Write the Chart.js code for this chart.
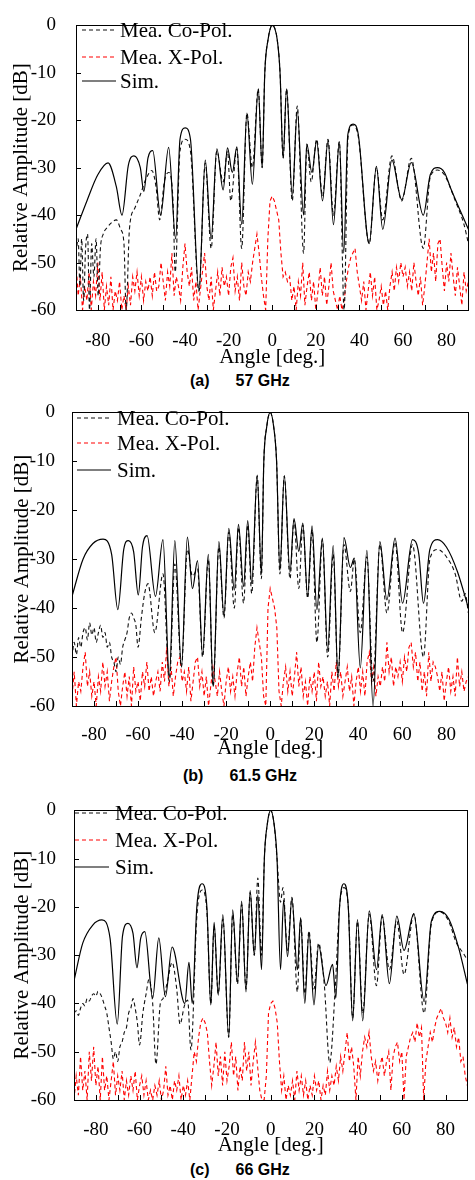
<!DOCTYPE html>
<html lang="en">
<head>
<meta charset="UTF-8">
<title>Radiation patterns</title>
<script src="https://cdn.jsdelivr.net/npm/chart.js"></script>
<style>
  html, body { margin: 0; padding: 0; background: #fff; overflow: hidden; width: 475px; height: 1180px; }
  canvas { position: absolute; left: 0; }
  .leg { position: absolute; font-family: "Liberation Serif", "Times New Roman", serif; font-size: 21px; line-height: 24px; color: #000; white-space: nowrap; }
  .legline { position: absolute; }
  .cap { position: absolute; font-family: "Liberation Sans", Arial, sans-serif; font-weight: bold; font-size: 16px; line-height: 18px; color: #000; white-space: nowrap; }
  .cap span { margin-left: 26px; }
</style>
</head>
<body>
<script>
// angle grid of the x-pol scans (1 deg step)
const angles = Array.from({ length: 181 }, (_, i) => i - 90);

// ---------- (a) 57 GHz ----------
const simA = [[-90,-43],[-85,-37],[-80,-31.5],[-75.3,-29],[-71.5,-34],[-68.9,-40],[-66,-29.5],[-63.4,-27.5],[-60.5,-30],[-58.9,-35],[-57,-28],[-54.8,-26.4],[-51.2,-40],[-47.5,-25.7],[-44.3,-45],[-42.3,-24],[-39.9,-21.6],[-37.5,-24],[-33.6,-56],[-30.7,-28.4],[-28,-45],[-25.4,-26],[-22.5,-34.7],[-20.5,-25.8],[-18.3,-31],[-16.2,-25.6],[-14,-42],[-11.6,-18.5],[-9.1,-33.5],[-6.4,-13.4],[-4.6,-30],[-3.4,-10],[-1.9,-3],[0,0],[2.3,-3],[3.6,-10],[5,-28],[6.6,-13.4],[9.2,-36],[11.5,-18],[14.4,-40],[15.9,-25.1],[18.2,-31],[20.4,-24.4],[23.1,-37],[25.6,-24.2],[28.1,-42],[30.8,-24.5],[32.8,-48],[34.7,-23],[37.1,-20.8],[39.5,-23],[44.5,-46],[47.8,-29.7],[50.7,-43],[54.9,-28.4],[59.4,-36.7],[63.8,-28.9],[69.3,-40],[72.5,-31.5],[75.8,-30],[79,-31],[82,-34.5],[90,-43]];
const coA = [[-90,-48],[-89,-45],[-88.2,-55],[-87.4,-45],[-86.5,-58],[-85.6,-47],[-84.7,-44],[-83.8,-60],[-82.8,-46],[-81.8,-53],[-80.8,-45],[-79.8,-57],[-78.8,-47],[-77.5,-44],[-75.5,-42.5],[-73.5,-41.5],[-71.5,-41],[-69.5,-43],[-68,-46],[-67,-60],[-65.5,-43],[-63,-38.5],[-60.5,-35.7],[-58,-32.5],[-55.2,-30.6],[-53.3,-34],[-51.6,-41],[-49.5,-33],[-47.5,-31],[-45.5,-37],[-44.5,-52],[-42.3,-26.5],[-40,-24],[-37.5,-26.5],[-33.6,-56],[-30.7,-29],[-28,-47],[-25.4,-26.5],[-22.5,-33],[-20.5,-26.5],[-19,-37],[-16.2,-26],[-14,-47],[-11.6,-18.5],[-9.1,-30],[-6.4,-13.4],[-4.6,-30],[-3.4,-10],[-1.9,-3],[0,0],[2.3,-3],[3.6,-10],[5,-28],[6.6,-13.4],[9.2,-37],[11.5,-17],[14.4,-48],[15.9,-25],[17.9,-33],[20.4,-24],[23.1,-36],[25.6,-24],[28.1,-40],[30.8,-24.5],[33,-60],[34.8,-23.5],[37.1,-21],[39.5,-23.5],[44.5,-46],[47.8,-30],[50.7,-41],[54.9,-27.5],[59.4,-37],[63.8,-28],[69.3,-47],[72.5,-32],[75.8,-30.5],[79,-31.5],[84,-37],[88,-42],[90,-46]];
const xpolA = [
  -50,-57,-53,-60,-55,-58,-52,-60,-54,-57,
  -50,-58,-52,-60,-55,-59,-53,-60,-56,-58,
  -54,-60,-57,-60,-55,-59,-53,-56,-52,-57,
  -53,-58,-54,-56,-53,-57,-52,-56,-55,-50,
  -54,-58,-52,-55,-48,-57,-53,-55,-58,-51,
  -46,-52,-55,-51,-58,-54,-60,-56,-52,-48,
  -55,-58,-53,-60,-56,-52,-57,-51,-55,-53,
  -57,-51,-49,-56,-53,-58,-50,-55,-57,-52,
  -54,-50,-47,-44,-48,-53,-57,-60,-45,-37,
  -36,-37,-39,-41,-48,-53,-52,-54,-53,-58,
  -55,-60,-54,-57,-50,-59,-55,-52,-58,-54,
  -60,-56,-51,-57,-53,-59,-55,-50,-56,-58,
  -60,-57,-60,-58,-54,-51,-49,-48,-47,-52,
  -55,-58,-54,-60,-56,-52,-57,-53,-60,-58,
  -55,-59,-56,-60,-55,-52,-56,-51,-54,-50,
  -53,-51,-55,-52,-56,-50,-54,-57,-53,-59,
  -55,-50,-45,-52,-48,-54,-46,-45,-51,-56,
  -50,-54,-48,-53,-57,-51,-55,-59,-52,-56,
  -54];

// ---------- (b) 61.5 GHz ----------
const simB = [[-90,-37.6],[-85,-30],[-80.5,-26.8],[-75.9,-25.9],[-72,-29],[-69.2,-40.3],[-66.5,-28],[-64.4,-26.2],[-62,-28.5],[-59.9,-37.3],[-58,-27.5],[-55.9,-25.2],[-52.1,-37.6],[-48.7,-26],[-45.8,-54],[-43.3,-26.2],[-40.3,-52],[-37.6,-25.5],[-35.3,-36],[-33,-30.3],[-30.7,-49.6],[-28.1,-29],[-25.9,-56],[-23.3,-26.4],[-21,-41.6],[-18.8,-23.7],[-16.3,-36.3],[-14.4,-22.9],[-12.1,-35.6],[-10.2,-22.1],[-8.4,-35],[-5.9,-12.8],[-4,-33],[-2.9,-10],[-1.6,-3],[0,0],[1.6,-3],[2.9,-10],[4.4,-32.3],[6.4,-12.9],[9,-32.7],[10.8,-21.7],[13,-28.4],[14.8,-22.6],[17,-37.6],[19,-23.2],[21.2,-40.3],[23.7,-25.7],[26.1,-48.6],[28.6,-27.2],[30.8,-54.2],[33.5,-25.6],[36.4,-31.7],[38.2,-29.8],[40.9,-52.2],[43.9,-28.2],[46.7,-60],[49.8,-26.4],[53,-38.3],[56.7,-25.7],[60.1,-39],[64.6,-26],[67.5,-29],[69.6,-39],[72.5,-28],[76,-26],[80,-27.5],[85,-32.5],[90,-40]];
const coB = [[-90,-50],[-89,-47],[-88,-49.5],[-87,-46],[-86,-48],[-85,-45],[-84,-44],[-83,-46.5],[-82,-43],[-81,-45.5],[-80,-44],[-79,-47],[-78,-45],[-77,-43.5],[-76,-46],[-75,-45],[-74,-48],[-73,-47],[-72,-50],[-71,-51],[-70,-53],[-69,-50],[-68,-51.5],[-67,-48],[-66,-46.5],[-65,-45],[-64,-42],[-63,-41],[-62,-42],[-61,-43.5],[-60,-48],[-58.5,-42],[-57,-37],[-55.5,-35],[-52.4,-45],[-48.7,-33],[-45.8,-55],[-43.3,-31],[-40.3,-52],[-37.6,-28],[-35.3,-33.5],[-33,-32],[-30.7,-50],[-28.1,-30],[-25.9,-56],[-23.3,-27.5],[-21,-42],[-18.8,-24.5],[-16.3,-40],[-14.4,-23.5],[-12.1,-39],[-10.2,-23],[-8.4,-37],[-5.9,-13],[-4,-34],[-2.9,-10],[-1.6,-3],[0,0],[1.6,-3],[2.9,-10],[4.4,-33],[6.4,-13],[9,-34],[10.8,-22],[13,-36],[14.8,-23],[17,-38],[19,-24],[21.2,-47],[23.7,-26],[26.1,-50],[28.6,-29],[30.8,-54],[33.5,-27],[36.4,-36.6],[38.2,-30],[40.9,-45],[43.9,-29.5],[46.7,-55],[49.8,-27],[53,-41],[56.7,-26.5],[60.1,-45],[64.6,-27],[69.6,-50],[72.5,-30],[76,-28],[80,-29.5],[84,-33],[87,-38.6],[88.5,-37],[90,-41]];
const xpolB = [
  -58,-53,-60,-55,-57,-52,-49,-56,-53,-58,
  -55,-60,-54,-57,-51,-56,-53,-59,-55,-52,
  -50,-57,-60,-56,-53,-58,-54,-60,-52,-57,
  -55,-59,-53,-56,-51,-57,-54,-58,-55,-53,
  -57,-51,-55,-48,-56,-52,-58,-54,-51,-50,
  -55,-53,-57,-52,-59,-55,-51,-50,-56,-53,
  -58,-54,-60,-56,-52,-55,-58,-53,-57,-60,
  -55,-52,-57,-54,-58,-53,-50,-56,-52,-58,
  -54,-51,-55,-48,-44,-47,-50,-58,-60,-40,
  -36,-38,-40,-44,-57,-60,-55,-52,-57,-53,
  -58,-54,-49,-56,-52,-58,-55,-60,-54,-57,
  -53,-59,-51,-56,-54,-58,-55,-60,-53,-57,
  -51,-56,-53,-58,-55,-52,-57,-54,-60,-55,
  -52,-57,-53,-58,-51,-49,-55,-52,-58,-54,
  -56,-52,-55,-47,-53,-50,-56,-52,-54,-51,
  -55,-50,-53,-48,-47,-52,-49,-55,-51,-57,
  -53,-58,-49,-55,-51,-52,-54,-57,-53,-59,
  -55,-52,-57,-54,-58,-50,-56,-53,-57,-55,
  -54];

// ---------- (c) 66 GHz ----------
const simC = [[-90,-35.3],[-86,-27.5],[-81.5,-23.8],[-77.2,-22.7],[-73.5,-26.5],[-70.2,-44.3],[-67.8,-26],[-65.3,-23.4],[-63,-25.5],[-61.2,-32.6],[-59.5,-26.5],[-57.6,-25.1],[-54,-38.9],[-51.2,-26.4],[-48.2,-38.6],[-45.1,-28.3],[-39.3,-40],[-37.4,-31.5],[-35.9,-40],[-33.8,-20],[-31.4,-15.2],[-29.2,-20],[-27.4,-40.3],[-25.9,-23.2],[-24,-38.3],[-21.9,-21.6],[-19.2,-47],[-17.4,-20.6],[-15.2,-35.6],[-13.3,-18.8],[-11.3,-37.6],[-9.4,-16.6],[-7.5,-30],[-5.9,-17.5],[-4.2,-33],[-2.9,-10],[-1.6,-3],[0,0],[1.6,-3],[2.9,-10],[4.5,-33],[5.9,-18.6],[7.7,-30.3],[9.7,-18.2],[12.2,-33],[13.7,-22.2],[15.6,-40],[17.5,-25.2],[19.8,-40.3],[21.9,-27.9],[25.3,-36.3],[28.3,-31.9],[29.8,-38.9],[31.5,-20],[33.5,-15.2],[35.5,-20],[37.5,-43.6],[39.7,-22.6],[42.1,-43.6],[45.1,-20.8],[48.4,-33],[51,-21.6],[54.3,-35.9],[57.7,-21.9],[61,-29],[65.5,-21.4],[70.2,-39.6],[73.5,-23],[77.4,-20.9],[81.5,-22.5],[86,-28.5],[90,-36]];
const coC = [[-90,-42],[-89,-41.5],[-88,-42.5],[-87,-41],[-86,-40],[-85,-40.5],[-84,-39],[-83,-39.5],[-82,-38.5],[-81,-38],[-80,-38.5],[-79,-37.5],[-78,-38],[-77,-39],[-76,-40.5],[-75,-42],[-74,-45],[-73,-48],[-72,-51.5],[-71,-50],[-70,-52],[-69,-49],[-68,-48],[-67,-46],[-66,-45],[-65,-42],[-64,-41],[-63,-39],[-62,-41],[-61,-44],[-60,-48.6],[-58.5,-42],[-57,-38],[-55.7,-35],[-54,-40],[-52.5,-52.6],[-50.5,-40],[-49.3,-39],[-47.5,-36],[-45.1,-31.5],[-43,-37],[-41.5,-44.3],[-39.5,-40.5],[-38,-39.3],[-36.5,-49.6],[-33.8,-22],[-31.4,-16.5],[-29.2,-21],[-27.4,-40],[-25.9,-24],[-24,-38],[-21.9,-22.5],[-19.2,-47],[-17.4,-21.5],[-15.2,-36],[-13.3,-19.5],[-11.3,-37],[-9.4,-17],[-7.5,-30],[-5.9,-14],[-4.2,-30],[-2.9,-10],[-1.6,-3],[0,0],[1.6,-3],[2.9,-10],[4.5,-19],[5.6,-16],[7.7,-29],[9.7,-18],[12.2,-37.6],[13.7,-22.5],[15.6,-38],[17.5,-25],[19.8,-37],[21.9,-27.5],[24.5,-36],[27,-52.3],[29.5,-37],[31.5,-20],[33.5,-16],[35.5,-20],[37.5,-43],[39.7,-23],[42.1,-42],[45.1,-21.5],[48.4,-36.3],[51,-22],[54.3,-33],[57.7,-23],[61,-34],[65.5,-21.5],[70.2,-42],[73.5,-23.5],[77.4,-21],[81.5,-23],[85,-27.5],[88,-29.5],[90,-31]];
const xpolC = [
  -60,-55,-59,-51,-58,-54,-60,-50,-56,-49,
  -57,-53,-60,-51,-58,-55,-60,-56,-52,-59,
  -55,-58,-54,-60,-56,-59,-55,-58,-54,-60,
  -57,-55,-59,-56,-60,-58,-60,-57,-59,-56,
  -60,-58,-53,-59,-57,-60,-56,-58,-55,-60,
  -57,-59,-56,-60,-55,-50,-52,-47,-44,-43,
  -44,-46,-52,-57,-53,-48,-55,-51,-57,-50,
  -56,-53,-48,-55,-51,-58,-53,-56,-48,-54,
  -50,-57,-52,-48,-53,-58,-60,-60,-55,-42,
  -40,-39.5,-41,-44,-52,-58,-55,-60,-57,-59,
  -56,-60,-54,-58,-55,-59,-56,-60,-57,-59,
  -55,-58,-56,-60,-57,-59,-54,-58,-55,-57,
  -53,-56,-51,-54,-50,-46,-52,-49,-53,-60,
  -51,-55,-50,-47,-49,-46,-51,-54,-52,-56,
  -53,-51,-55,-52,-50,-58,-51,-49,-48,-52,
  -50,-60,-51,-49,-47,-46,-48,-44,-47,-45,
  -60,-52,-49,-46,-48,-45,-43,-42,-41,-43,
  -44,-46,-43,-47,-45,-49,-47,-52,-51,-55,
  -57];

// legend entries: label, colour, dash
const legendItems = [['Mea. Co-Pol.', '#111', '4 3'], ['Mea. X-Pol.', '#ff0000', '4 3'], ['Sim.', '#000', '']];

// page geometry of each panel (plot box, label offsets, legend, caption)
const panels = [
  { sim: simA, co: coA, xpol: xpolA, left: 76, top: 14, bottom: 310, right: 478,
    yGap: 12, tickOff: 23, titleOff: 47, yTitleX: 21,
    leg: { lineX: 82, textX: 120, ys: [30, 57, 81] }, cap: ['(a)', '57 GHz', 190, 381] },
  { sim: simB, co: coB, xpol: xpolB, left: 72, top: 404, bottom: 706, right: 476,
    yGap: 9, tickOff: 21, titleOff: 42, yTitleX: 22,
    leg: { lineX: 77, textX: 117, ys: [418, 443, 470] }, cap: ['(b)', '61.5 GHz', 183, 776] },
  { sim: simC, co: coC, xpol: xpolC, left: 74, top: 801, bottom: 1100, right: 476,
    yGap: 10, tickOff: 22, titleOff: 45, yTitleX: 22,
    leg: { lineX: 75, textX: 115, ys: [813, 840, 867] }, cap: ['(c)', '66 GHz', 190, 1170] }
];

Chart.defaults.font.family = '"Liberation Serif", "Times New Roman", serif';
Chart.defaults.color = '#000';

// frame round the plot and short inward tick marks
const frameTicks = {
  id: 'frameTicks',
  afterDatasetsDraw(chart) {
    const { ctx, chartArea: a, scales: { x, y } } = chart;
    ctx.save();
    ctx.strokeStyle = '#000';
    ctx.lineWidth = 1;
    ctx.strokeRect(Math.round(a.left) + 0.5, Math.round(a.top) + 0.5, Math.round(a.right - a.left), Math.round(a.bottom - a.top));
    ctx.beginPath();
    x.ticks.forEach(t => {
      const px = Math.round(x.getPixelForValue(t.value)) + 0.5;
      ctx.moveTo(px, a.bottom); ctx.lineTo(px, a.bottom - 5);
    });
    y.ticks.forEach(t => {
      const py = Math.round(y.getPixelForValue(t.value)) + 0.5;
      ctx.moveTo(a.left, py); ctx.lineTo(a.left + 5, py);
    });
    ctx.stroke();
    ctx.restore();
  }
};

panels.forEach(p => {
  const pt = 12, xh = 60;
  const w = p.right + 2, h = pt + (p.bottom - p.top) + xh;
  const canvas = document.createElement('canvas');
  canvas.width = w; canvas.height = h;
  canvas.style.top = (p.top - pt) + 'px';
  document.body.appendChild(canvas);

  new Chart(canvas, {
    type: 'line',
    data: {
      datasets: [
        { label: 'Sim.', data: p.sim.map(([x, y]) => ({ x, y })), borderColor: '#000', borderWidth: 1.2,
          pointRadius: 0, cubicInterpolationMode: 'monotone' },
        { label: 'Mea. Co-Pol.', data: p.co.map(([x, y]) => ({ x, y })), borderColor: '#111', borderWidth: 1.1,
          borderDash: [4, 3], pointRadius: 0, cubicInterpolationMode: 'monotone' },
        { label: 'Mea. X-Pol.', data: angles.map((a, i) => ({ x: a, y: p.xpol[i] })), borderColor: '#ff0000',
          borderWidth: 1.1, borderDash: [4, 3], pointRadius: 0, tension: 0 }
      ]
    },
    options: {
      responsive: false,
      animation: false,
      layout: { padding: { top: pt, right: 2, left: 0, bottom: 0 } },
      plugins: { legend: { display: false }, tooltip: { enabled: false } },
      scales: {
        x: {
          type: 'linear', min: -90, max: 90,
          afterFit: s => { s.height = xh; },
          grid: { display: false }, border: { display: false },
          ticks: { stepSize: 10, autoSkip: false, maxRotation: 0, padding: p.tickOff - 11.4,
                   font: { size: 19 }, callback: v => (v % 20 === 0 ? String(v) : '') },
          title: { display: true, text: 'Angle [deg.]', font: { size: 21 },
                   padding: { top: 0, bottom: xh - p.titleOff - 12.6 } }
        },
        y: {
          min: -60, max: 0,
          afterFit: s => { s.width = p.left; },
          grid: { display: false }, border: { display: false },
          ticks: { stepSize: 5, padding: p.yGap, font: { size: 19 },
                   callback: v => (v % 10 === 0 ? String(v) : '') },
          title: { display: true, text: 'Relative Amplitude [dB]', font: { size: 21 },
                   padding: { top: p.yTitleX - 12.6, bottom: 0 } }
        }
      }
    },
    plugins: [frameTicks]
  });

  // legend inside the plot, top left
  legendItems.forEach(([label, color, dash], i) => {
    const y = p.leg.ys[i];
    const svg = document.createElementNS('http://www.w3.org/2000/svg', 'svg');
    svg.setAttribute('class', 'legline');
    svg.setAttribute('width', '34'); svg.setAttribute('height', '4');
    svg.style.left = p.leg.lineX + 'px'; svg.style.top = (y - 2) + 'px';
    const ln = document.createElementNS('http://www.w3.org/2000/svg', 'line');
    ln.setAttribute('x1', '0'); ln.setAttribute('x2', '34');
    ln.setAttribute('y1', '2'); ln.setAttribute('y2', '2');
    ln.setAttribute('stroke', color); ln.setAttribute('stroke-width', '1.2');
    if (dash) ln.setAttribute('stroke-dasharray', dash);
    svg.appendChild(ln);
    document.body.appendChild(svg);
    const t = document.createElement('div');
    t.className = 'leg';
    t.textContent = label;
    t.style.left = p.leg.textX + 'px'; t.style.top = (y - 12) + 'px';
    document.body.appendChild(t);
  });

  // panel caption
  const c = document.createElement('div');
  c.className = 'cap';
  c.innerHTML = p.cap[0] + '<span>' + p.cap[1] + '</span>';
  c.style.left = p.cap[2] + 'px'; c.style.top = (p.cap[3] - 9) + 'px';
  document.body.appendChild(c);
});
</script>
</body>
</html>
